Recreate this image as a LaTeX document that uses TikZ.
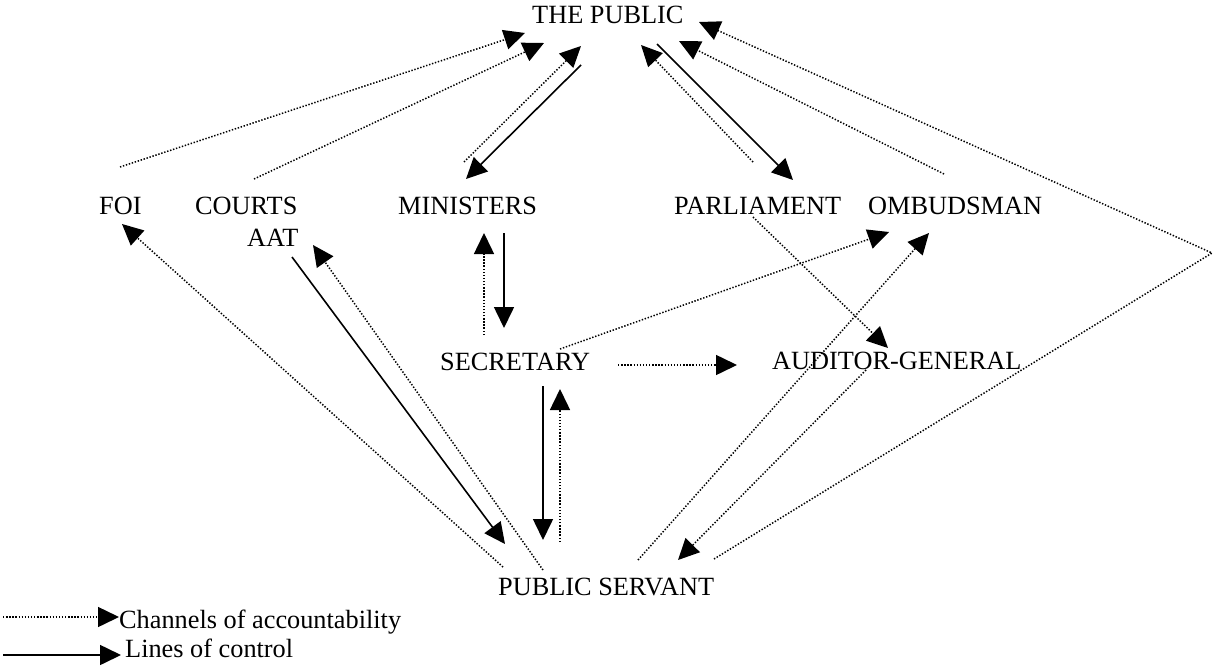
\documentclass[tikz,border=0pt]{standalone}
\usepackage{fontspec}
\setmainfont{Liberation Serif}
\usetikzlibrary{arrows.meta}
\begin{document}
\begin{tikzpicture}[x=1pt,y=-1pt,
  lbl/.style={anchor=base west,inner sep=0pt,font=\fontsize{26.3}{30}\selectfont},
  tip/.style={-{Triangle[length=21pt,width=20pt]}},
  acc/.style={line width=1.5pt,dash pattern=on 1.4pt off 1.7pt},
  ctl/.style={line width=1.6pt}]
\useasboundingbox (0,0) rectangle (1214,666);
% labels
\node[lbl] (pub) at (532,24) {THE PUBLIC};
\node[lbl] (foi) at (99,214) {FOI};
\node[lbl] (courts) at (195,214) {COURTS};
\node[lbl] (aat) at (247,246) {AAT};
\node[lbl] (min) at (398,214) {MINISTERS};
\node[lbl] (parl) at (674,214) {PARLIAMENT};
\node[lbl] (omb) at (868,214) {OMBUDSMAN};
\node[lbl] (sec) at (440,370) {SECRETARY};
\node[lbl] (aud) at (772,369) {AUDITOR-GENERAL};
\node[lbl] (ps) at (498,595) {PUBLIC SERVANT};
\node[lbl] (legA) at (119,628) {Channels of accountability};
\node[lbl] (legC) at (125,657) {Lines of control};
% connector end points
\coordinate (foiT) at (120,167);
\coordinate (pubT1) at (525,33);
\coordinate (courtsT) at (254,179);
\coordinate (pubT2) at (544,43);
\coordinate (minT) at (464,162);
\coordinate (pubT3) at (581,46);
\coordinate (pubS1) at (581,65);
\coordinate (minS) at (466,179);
\coordinate (parlT) at (753,162);
\coordinate (pubT4) at (641,45);
\coordinate (pubS2) at (657,44);
\coordinate (parlS) at (793,180);
\coordinate (ombT) at (944,174);
\coordinate (pubT5) at (679,41);
\coordinate (psR) at (714,559);
\coordinate (apex) at (1212,253);
\coordinate (pubT6) at (699,22);
\coordinate (psFoi) at (503,567);
\coordinate (foiB) at (122,224);
\coordinate (aatS) at (292,257);
\coordinate (psAat) at (505,544);
\coordinate (psAatD) at (543,570);
\coordinate (aatT) at (313,245);
\coordinate (minB1) at (504,233);
\coordinate (secT1) at (504,328);
\coordinate (secT2) at (484,335);
\coordinate (minB2) at (484,233);
\coordinate (secB1) at (543,386);
\coordinate (psT1) at (543,540);
\coordinate (psT2) at (560,542);
\coordinate (secB2) at (560,389);
\coordinate (secR) at (560,349);
\coordinate (ombB1) at (889,232);
\coordinate (secE) at (618,365);
\coordinate (audW) at (737,365);
\coordinate (parlB) at (753,217);
\coordinate (audT) at (888,348);
\coordinate (psOmb) at (638,560);
\coordinate (ombB2) at (929,233);
\coordinate (audB) at (866,370);
\coordinate (psAud) at (678,560);
\coordinate (lgA1) at (3,617);
\coordinate (lgA2) at (119,617);
\coordinate (lgC1) at (3,655);
\coordinate (lgC2) at (121,655);
% channels of accountability
\draw[acc,tip] (foiT) -- (pubT1);
\draw[acc,tip] (courtsT) -- (pubT2);
\draw[acc,tip] (minT) -- (pubT3);
\draw[acc,tip] (parlT) -- (pubT4);
\draw[acc,tip] (ombT) -- (pubT5);
\draw[acc,tip] (psR) -- (apex) -- (pubT6);
\draw[acc,tip] (psFoi) -- (foiB);
\draw[acc,tip] (psAatD) -- (aatT);
\draw[acc,tip] (secT2) -- (minB2);
\draw[acc,tip] (psT2) -- (secB2);
\draw[acc,tip] (secR) -- (ombB1);
\draw[acc,tip] (secE) -- (audW);
\draw[acc,tip] (parlB) -- (audT);
\draw[acc,tip] (psOmb) -- (ombB2);
\draw[acc,tip] (audB) -- (psAud);
% lines of control
\draw[ctl,tip] (pubS1) -- (minS);
\draw[ctl,tip] (pubS2) -- (parlS);
\draw[ctl,tip] (aatS) -- (psAat);
\draw[ctl,tip] (minB1) -- (secT1);
\draw[ctl,tip] (secB1) -- (psT1);
% legend
\draw[acc,tip] (lgA1) -- (lgA2);
\draw[ctl,tip] (lgC1) -- (lgC2);
\end{tikzpicture}
\end{document}
